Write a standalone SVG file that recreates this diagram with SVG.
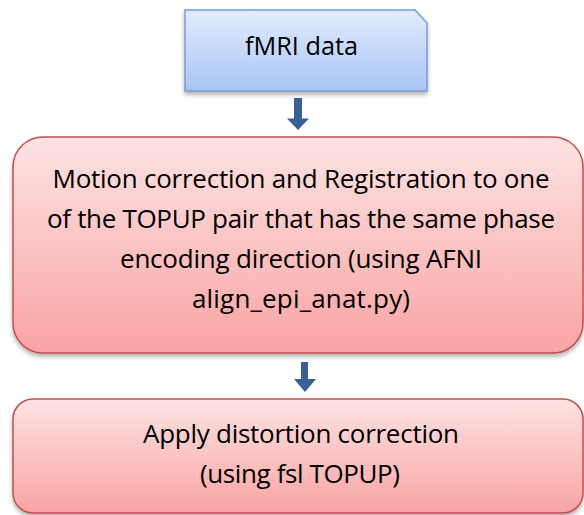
<svg xmlns="http://www.w3.org/2000/svg" width="584" height="515" viewBox="0 0 584 515">
<defs>
<linearGradient id="gb" x1="0" y1="0" x2="0" y2="1"><stop offset="0" stop-color="#e3ecfc"/><stop offset="1" stop-color="#a8c5f5"/></linearGradient>
<linearGradient id="gr" x1="0" y1="0" x2="0" y2="1"><stop offset="0" stop-color="#fde3e3"/><stop offset="1" stop-color="#f9a4a4"/></linearGradient>
<filter id="sh" x="-5%" y="-5%" width="110%" height="120%"><feDropShadow dx="0" dy="3" stdDeviation="2" flood-color="#000" flood-opacity="0.3"/></filter>
</defs>
<style>
.t{font-family:"Open Sans","Liberation Sans",sans-serif;font-size:26px;fill:#000;text-anchor:middle}
.bx{stroke-width:1.5;filter:url(#sh)}
.ar{fill:#3a5f94}
</style>
<rect width="584" height="515" fill="#fff"/>
<g id="n1">
<path class="bx" d="M185,10 H415 L427,23 V91 H185 Z" fill="url(#gb)" stroke="#7a9cd3"/>
<text class="t" x="301.5" y="55" font-size="25" textLength="113" lengthAdjust="spacingAndGlyphs">fMRI data</text>
</g>
<g id="n2">
<rect class="bx" x="13" y="137" width="570" height="216" rx="30" fill="url(#gr)" stroke="#c0504d"/>
<text class="t" x="301" y="188" textLength="497">Motion correction and Registration to one</text>
<text class="t" x="301" y="228" textLength="508">of the TOPUP pair that has the same phase</text>
<text class="t" x="301" y="268" textLength="362">encoding direction (using AFNI</text>
<text class="t" x="301" y="308" textLength="218">align_epi_anat.py)</text>
</g>
<g id="n3">
<rect class="bx" x="13" y="399" width="570" height="114" rx="20" fill="url(#gr)" stroke="#c0504d"/>
<text class="t" x="301" y="443" textLength="316">Apply distortion correction</text>
<text class="t" x="300" y="483" textLength="200">(using fsl TOPUP)</text>
</g>
<g id="connectors">
<path class="ar" d="M294,98 H302 V118.5 H309 L298,130 L287,118.5 H294 Z"/>
<path class="ar" d="M301,362 H308 V379 H316 L305,392 L294,379 H301 Z"/>
</g>
</svg>
